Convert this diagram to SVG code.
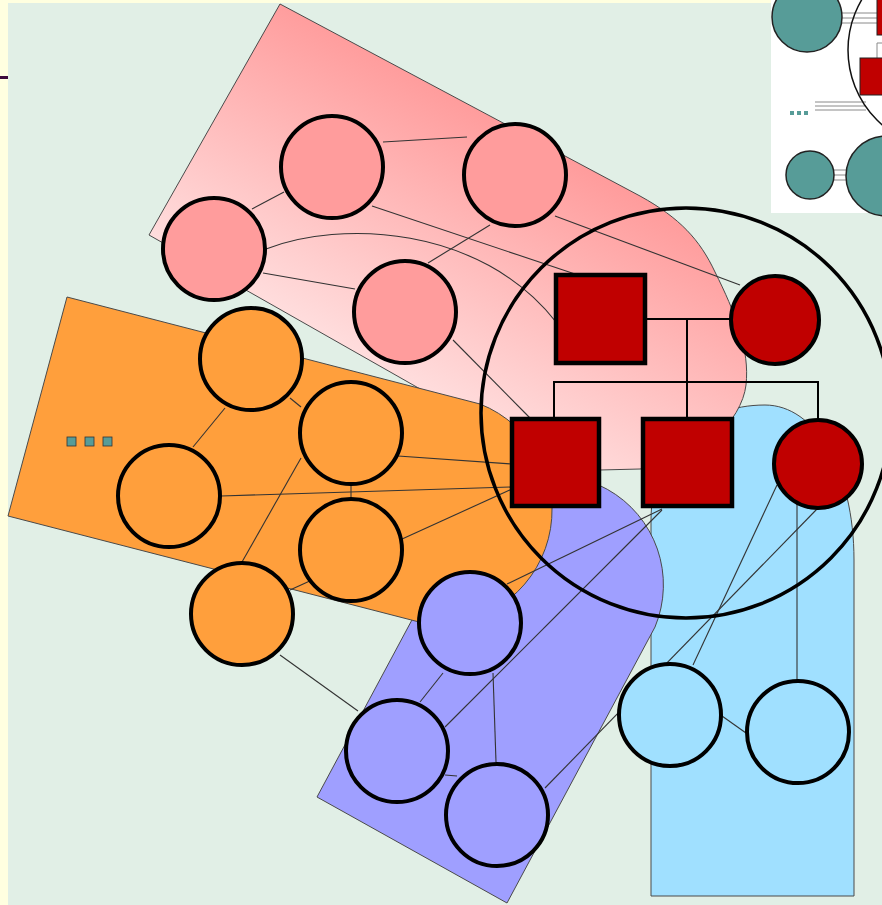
<svg xmlns="http://www.w3.org/2000/svg" width="882" height="905" viewBox="0 0 882 905">
<defs>
<linearGradient id="pinkGrad" gradientUnits="userSpaceOnUse" x1="500" y1="110" x2="360" y2="360">
<stop offset="0" stop-color="#FF9A9A"/>
<stop offset="1" stop-color="#FFDEDE"/>
</linearGradient>
</defs>
<style>
.region{stroke:#4a4a4a;stroke-width:1}
.con{stroke:#333;stroke-width:1.1;fill:none}
.fam{stroke:#000;stroke-width:2;fill:none}
.node{stroke:#000;stroke-width:4}
.sq{stroke:#000;stroke-width:4.5;fill:#C00000}
.pink{fill:#FF9C9C}
.orange{fill:#FF9F3C}
.purple{fill:#9F9FFF}
.blue{fill:#A0E0FF}
.red{fill:#C00000}
.teal{fill:#579C98;stroke:#222;stroke-width:1.5}
.glines{stroke:#8a8a8a;stroke-width:1}
</style>
<rect x="0" y="0" width="882" height="905" fill="#FFFFE0"/>
<rect x="8" y="3" width="874" height="902" fill="#E1EFE6"/>
<rect x="0" y="76" width="8" height="3" fill="#3C0A3C"/>

<g id="inset">
<rect x="771" y="0" width="111" height="213" fill="#FFFFFF"/>
<g class="glines">
<line x1="842" y1="13" x2="877" y2="13"/><line x1="842" y1="18" x2="877" y2="18"/><line x1="842" y1="23" x2="877" y2="23"/>
<line x1="815" y1="102" x2="866" y2="102"/><line x1="815" y1="106" x2="866" y2="106"/><line x1="815" y1="110" x2="866" y2="110"/>
<line x1="834" y1="170" x2="848" y2="170"/><line x1="834" y1="175" x2="848" y2="175"/><line x1="834" y1="180" x2="848" y2="180"/>
<polyline points="877,58 877,43 882,43" fill="none"/>
</g>
<circle cx="947" cy="50" r="99" fill="none" stroke="#111" stroke-width="1.5"/>
<circle class="teal" cx="807" cy="17" r="35"/>
<rect x="877" y="-2" width="10" height="37" fill="#C00000" stroke="#222" stroke-width="1"/>
<rect x="860" y="58" width="30" height="37" fill="#C00000" stroke="#222" stroke-width="1"/>
<circle class="teal" cx="810" cy="175" r="24"/>
<circle class="teal" cx="886" cy="176" r="40"/>
<rect x="790" y="111" width="4" height="4" fill="#579C98"/>
<rect x="797" y="111" width="4" height="4" fill="#579C98"/>
<rect x="804" y="111" width="4" height="4" fill="#579C98"/>
</g>

<g id="regions">
<path id="region-blue" class="region blue" d="M651,896 L651,520 C651,450 700,405 765,405 C815,405 854,470 854,560 L854,896 Z"/>
<path id="region-pink" class="region" fill="url(#pinkGrad)" d="M280,4 L640,196 C680,218 700,240 715,272 C735,312 750,350 746,385 C742,420 700,465 640,469 L600,470 C565,468 535,452 510,440 L149,235 Z"/>
<path id="region-purple" class="region purple" d="M317,797 L465,521 A109.5,109.5 0 0 1 655,627 L507,903 Z"/>
<path id="region-orange" class="region orange" d="M67,297 L480,404 A114,114 0 0 1 423,623 L8,516 Z"/>
<g id="ellipsis">
<rect x="67" y="437" width="9" height="9" fill="#579C98" stroke="#333" stroke-width="0.8"/>
<rect x="85" y="437" width="9" height="9" fill="#579C98" stroke="#333" stroke-width="0.8"/>
<rect x="103" y="437" width="9" height="9" fill="#579C98" stroke="#333" stroke-width="0.8"/>
</g>
</g>

<g id="connectors">
<line class="con" x1="383" y1="142" x2="467" y2="137"/>
<line class="con" x1="252" y1="209" x2="284" y2="192"/>
<line class="con" x1="372" y1="206" x2="578" y2="275"/>
<line class="con" x1="555" y1="216" x2="740" y2="285"/>
<line class="con" x1="490" y1="225" x2="428" y2="263"/>
<path class="con" d="M266,249 C340,220 480,225 556,322"/>
<line class="con" x1="263" y1="273" x2="355" y2="289"/>
<line class="con" x1="453" y1="340" x2="530" y2="418"/>
<line class="con" x1="225" y1="408" x2="193" y2="447"/>
<line class="con" x1="290" y1="398" x2="301" y2="407"/>
<line class="con" x1="398" y1="456" x2="512" y2="464"/>
<line class="con" x1="221" y1="496" x2="512" y2="487"/>
<line class="con" x1="351" y1="484" x2="351" y2="498"/>
<line class="con" x1="242" y1="562" x2="301" y2="458"/>
<line class="con" x1="290" y1="590" x2="512" y2="489"/>
<line class="con" x1="280" y1="655" x2="358" y2="711"/>
<line class="con" x1="507" y1="584" x2="662" y2="509"/>
<line class="con" x1="445" y1="727" x2="662" y2="510"/>
<line class="con" x1="443" y1="673" x2="420" y2="702"/>
<line class="con" x1="493" y1="673" x2="496" y2="762"/>
<line class="con" x1="445" y1="775" x2="457" y2="776"/>
<line class="con" x1="545" y1="788" x2="817" y2="509"/>
<line class="con" x1="693" y1="665" x2="777" y2="485"/>
<line class="con" x1="797" y1="503" x2="797" y2="680"/>
<line class="con" x1="722" y1="716" x2="746" y2="733"/>
<line class="fam" x1="646" y1="319" x2="731" y2="319"/>
<line class="fam" x1="687" y1="319" x2="687" y2="418"/>
<polyline class="fam" points="554,418 554,382 818,382 818,420"/>
</g>

<circle id="family-circle" cx="686" cy="413" r="205" fill="none" stroke="#000" stroke-width="3.5"/>

<g id="node-p1"><circle class="node pink" cx="332" cy="167" r="51"/></g>
<g id="node-p2"><circle class="node pink" cx="515" cy="175" r="51"/></g>
<g id="node-p3"><circle class="node pink" cx="214" cy="249" r="51"/></g>
<g id="node-p4"><circle class="node pink" cx="405" cy="312" r="51"/></g>
<g id="node-o1"><circle class="node orange" cx="251" cy="359" r="51"/></g>
<g id="node-o2"><circle class="node orange" cx="351" cy="433" r="51"/></g>
<g id="node-o3"><circle class="node orange" cx="169" cy="496" r="51"/></g>
<g id="node-o4"><circle class="node orange" cx="351" cy="550" r="51"/></g>
<g id="node-o5"><circle class="node orange" cx="242" cy="614" r="51"/></g>
<g id="node-v1"><circle class="node purple" cx="470" cy="623" r="51"/></g>
<g id="node-v2"><circle class="node purple" cx="397" cy="751" r="51"/></g>
<g id="node-v3"><circle class="node purple" cx="497" cy="815" r="51"/></g>
<g id="node-b1"><circle class="node blue" cx="670" cy="715" r="51"/></g>
<g id="node-b2"><circle class="node blue" cx="798" cy="732" r="51"/></g>
<g id="node-father"><rect class="sq" x="556" y="275" width="89" height="88"/></g>
<g id="node-mother"><circle class="node red" cx="775" cy="320" r="44"/></g>
<g id="node-son1"><rect class="sq" x="512" y="419" width="87" height="87"/></g>
<g id="node-son2"><rect class="sq" x="643" y="419" width="89" height="87"/></g>
<g id="node-daughter"><circle class="node red" cx="818" cy="464" r="44"/></g>
</svg>
